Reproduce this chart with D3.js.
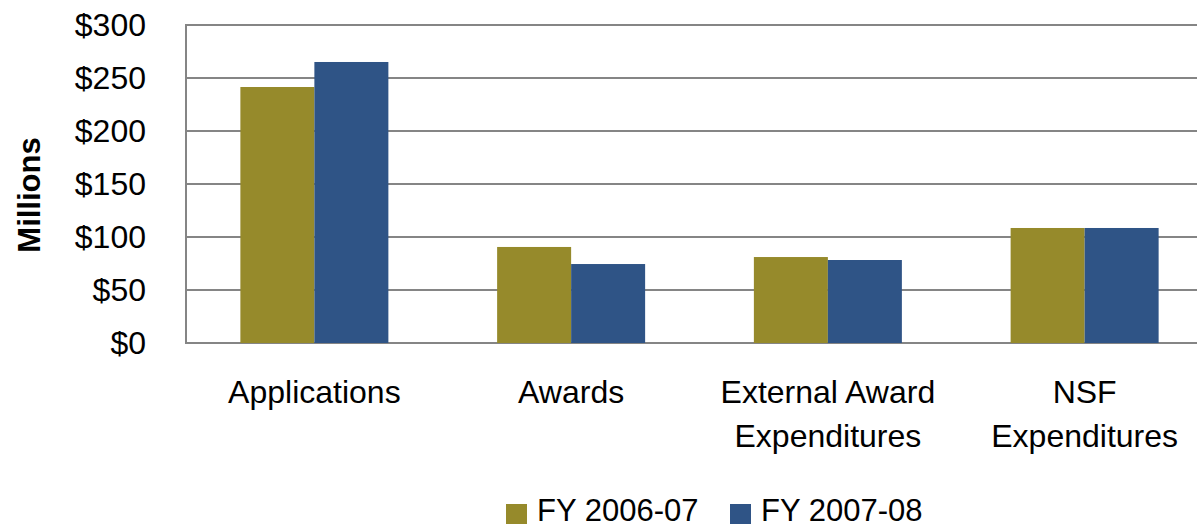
<!DOCTYPE html>
<html>
<head>
<meta charset="utf-8">
<script src="https://cdn.jsdelivr.net/npm/d3@7"></script>
<style>
  body { margin: 0; background: #fff; }
  text { font-family: "Liberation Sans", Arial, sans-serif; fill: #000; }
</style>
</head>
<body>
<div id="chart"></div>
<script>
var width = 1197;
var height = 529;
var margin = {top: 25, right: -16, bottom: 186, left: 186};

// data
var categories = [["Applications"], ["Awards"], ["External Award", "Expenditures"], ["NSF", "Expenditures"]];
var seriesNames = ["FY 2006-07", "FY 2007-08"];
var fy0607 = [241.5, 90.6, 81.1, 108.5];
var fy0708 = [265.1, 74.5, 78.3, 108.5];
var yTicks = [0, 50, 100, 150, 200, 250, 300];
var colors = ["#968A2B", "#2F5486"];

var svg = d3.select("#chart").append("svg")
  .attr("width", width)
  .attr("height", height);

var catKeys = categories.map(function(c) { return c.join(" "); });

var x0 = d3.scaleBand()
  .domain(catKeys)
  .range([margin.left, width - margin.right]);

var groupWidth = 148;
var x1 = d3.scaleBand()
  .domain(seriesNames)
  .range([0, groupWidth]);

var y = d3.scaleLinear()
  .domain([0, 300])
  .range([height - margin.bottom, margin.top]);

// gridlines
svg.append("g")
  .selectAll("line")
  .data(yTicks)
  .enter().append("line")
    .attr("x1", margin.left)
    .attr("x2", width)
    .attr("y1", function(d) { return y(d); })
    .attr("y2", function(d) { return y(d); })
    .attr("stroke", "#858585")
    .attr("stroke-width", 2);

// bars
var rows = catKeys.map(function(k, i) {
  return {key: k, values: [fy0607[i], fy0708[i]]};
});

var groups = svg.append("g")
  .selectAll("g")
  .data(rows)
  .enter().append("g")
    .attr("transform", function(d) {
      return "translate(" + (x0(d.key) + (x0.bandwidth() - groupWidth) / 2) + ",0)";
    });

groups.selectAll("rect")
  .data(function(d) { return d.values.map(function(v, i) { return {name: seriesNames[i], value: v}; }); })
  .enter().append("rect")
    .attr("x", function(d) { return x1(d.name); })
    .attr("width", x1.bandwidth())
    .attr("y", function(d) { return y(d.value); })
    .attr("height", function(d) { return y(0) - y(d.value); })
    .attr("fill", function(d, i) { return colors[i]; });

// left axis line
svg.append("line")
  .attr("x1", margin.left).attr("x2", margin.left)
  .attr("y1", y(300) - 1).attr("y2", y(0) + 1)
  .attr("stroke", "#858585")
  .attr("stroke-width", 2);

// y tick labels
svg.append("g")
  .selectAll("text")
  .data(yTicks)
  .enter().append("text")
    .attr("x", 146)
    .attr("y", function(d) { return y(d); })
    .attr("dy", "0.35em")
    .attr("text-anchor", "end")
    .style("font-size", "32px")
    .text(function(d) { return "$" + d; });

// y axis title
svg.append("text")
  .attr("transform", "translate(40," + 195 + ")rotate(-90)")
  .attr("text-anchor", "middle")
  .style("font-size", "31px")
  .style("font-weight", "bold")
  .text("Millions");

// category labels
var catLabels = svg.append("g")
  .selectAll("text")
  .data(categories)
  .enter().append("text")
    .attr("text-anchor", "middle")
    .style("font-size", "32px")
    .attr("transform", function(d) {
      return "translate(" + (x0(d.join(" ")) + x0.bandwidth() / 2) + ",403)";
    });

catLabels.selectAll("tspan")
  .data(function(d) { return d; })
  .enter().append("tspan")
    .attr("x", 0)
    .attr("y", function(d, i) { return i * 44; })
    .text(function(d) { return d; });

// legend
var legendX = [506, 730];
var legend = svg.append("g")
  .selectAll("g")
  .data(seriesNames)
  .enter().append("g")
    .attr("transform", function(d, i) { return "translate(" + legendX[i] + ",500)"; });

legend.append("rect")
  .attr("width", 21)
  .attr("height", 20)
  .attr("y", 4)
  .attr("fill", function(d, i) { return colors[i]; });

legend.append("text")
  .attr("x", 31)
  .attr("y", 21)
  .style("font-size", "31px")
  .text(function(d) { return d; });
</script>
</body>
</html>
